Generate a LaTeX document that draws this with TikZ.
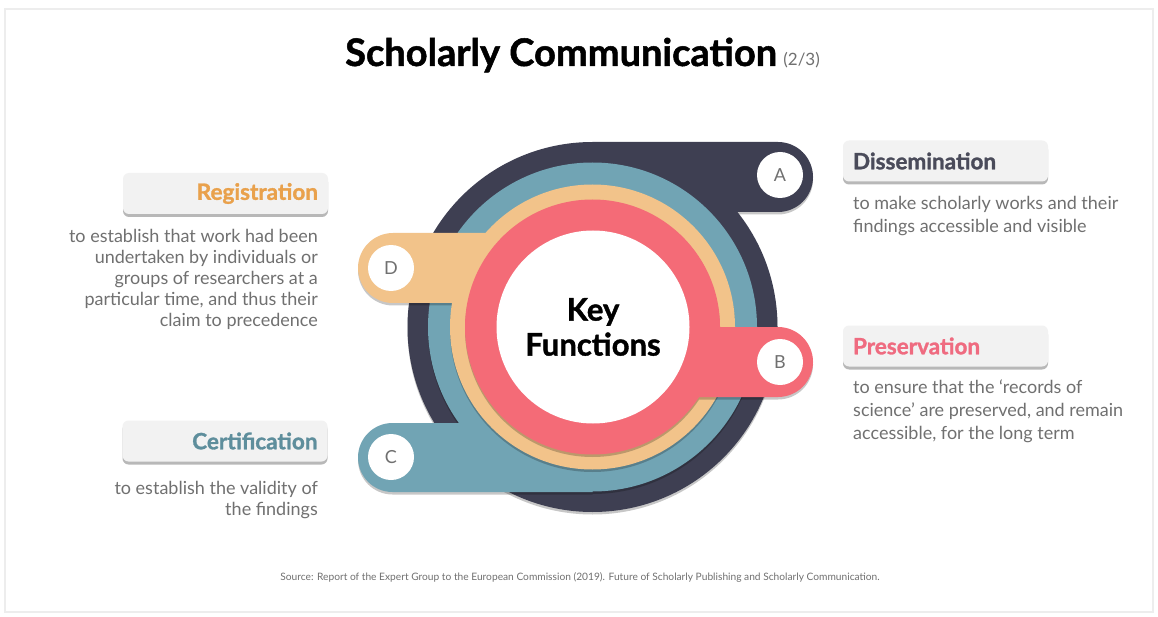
\documentclass[tikz,border=0pt]{standalone}
\usepackage{fontspec}
\setmainfont{Lato}[BoldFeatures={FakeBold=1.3}]
\usetikzlibrary{shadows}
\definecolor{cdark}{HTML}{3E3F52}
\definecolor{cteal}{HTML}{71A4B4}
\definecolor{ctan}{HTML}{F2C38A}
\definecolor{cpink}{HTML}{F46B77}
\definecolor{tReg}{HTML}{E9A14C}
\definecolor{tCert}{HTML}{5E8E9C}
\definecolor{tPres}{HTML}{EF6B80}
\definecolor{tDiss}{HTML}{4A4B5A}
\definecolor{descgray}{HTML}{707070}
\definecolor{boxgray}{HTML}{F2F2F2}
\begin{document}
\begin{tikzpicture}[x=1pt,y=-1pt,
  ringshadow/.style={drop shadow={shadow xshift=0pt,shadow yshift=-2.5pt,opacity=0.22,fill=black}},
  letter/.style={circle,fill=white,minimum size=46pt,inner sep=0pt,text=descgray,font=\fontsize{18}{18}\selectfont},
  labelbox/.style={rounded corners=6pt,fill=boxgray,minimum width=205pt,minimum height=41pt,inner xsep=10pt,text width=185pt,
     font=\bfseries\fontsize{22.5}{24}\selectfont,
     drop shadow={shadow xshift=0pt,shadow yshift=-3pt,opacity=0.28,fill=black}},
  desc/.style={text=descgray,font=\fontsize{18}{21}\selectfont,inner sep=0pt},
  descr/.style={text=descgray,font=\fontsize{18}{23}\selectfont,inner sep=0pt}]
\useasboundingbox (0,0) rectangle (1158,617);
\fill[white] (0,0) rectangle (1158,617);
\draw[black!7,line width=1.5pt] (5,9) rectangle (1153,612);

% outer dark ring with tab A
\fill[cdark,ringshadow] (592.5,327) circle[radius=185]
  (592.5,142) [rounded corners=35pt] -- (813,142) -- (813,212) [sharp corners] -- (592.5,212) -- cycle;
% teal ring with tab C
\fill[cteal,ringshadow] (592.5,327) circle[radius=164.5]
  (592.5,492) [rounded corners=34.5pt] -- (358,492) -- (358,423) [sharp corners] -- (592.5,423) -- cycle;
% tan ring with tab D
\fill[ctan,ringshadow] (592.5,327) circle[radius=142.5]
  (592.5,303) [rounded corners=35pt] -- (358,303) -- (358,233) [sharp corners] -- (592.5,233) -- cycle;
% pink ring with tab B
\fill[cpink,ringshadow] (592.5,327) circle[radius=127.5]
  (592.5,327) [rounded corners=35pt] -- (813,327) -- (813,397) [sharp corners] -- (592.5,397) -- cycle;
% white centre
\node[circle,fill=white,minimum size=193pt,inner sep=0pt,align=center,
  font=\bfseries\fontsize{31}{35}\selectfont] (key) at (593,327) {Key\\Functions};

\node[letter] (A) at (780,175) {A};
\node[letter] (B) at (780,362) {B};
\node[letter] (C) at (391,457) {C};
\node[letter] (D) at (391,268) {D};

% title
\node[anchor=base west,inner sep=0pt,font=\bfseries\fontsize{38}{40}\selectfont] (title) at (345,66) {Scholarly Communication};
\node[anchor=base west,inner sep=0pt,text=descgray,font=\fontsize{17}{18}\selectfont] (pg) at ([xshift=6pt]title.base east) {(2/3)};

% label boxes
\node[labelbox,align=right,text=tReg] (reg) at (225.5,193.5) {Registration};
\node[labelbox,align=right,text=tCert] (cert) at (225,441) {Certification};
\node[labelbox,align=left,text=tDiss] (diss) at (945.5,161) {Dissemination};
\node[labelbox,align=left,text=tPres] (pres) at (945.5,346) {Preservation};

% descriptions
\node[desc,anchor=north east,align=right] (regd) at (318,229) {to establish that work had been\\undertaken by individuals or\\groups of researchers at a\\particular time, and thus their\\claim to precedence};
\node[desc,anchor=north east,align=right] (certd) at (318,481) {to establish the validity of\\the findings};
\node[descr,anchor=north west,align=left] (dissd) at (853,196) {to make scholarly works and their\\findings accessible and visible};
\node[descr,anchor=north west,align=left] (presd) at (853,380) {to ensure that the ‘records of\\science’ are preserved, and remain\\accessible, for the long term};

% source
\node[text=descgray,font=\fontsize{10.2}{11}\selectfont,inner sep=0pt] (src) at (580,577) {Source: Report of the Expert Group to the European Commission (2019). Future of Scholarly Publishing and Scholarly Communication.};
\end{tikzpicture}
\end{document}
